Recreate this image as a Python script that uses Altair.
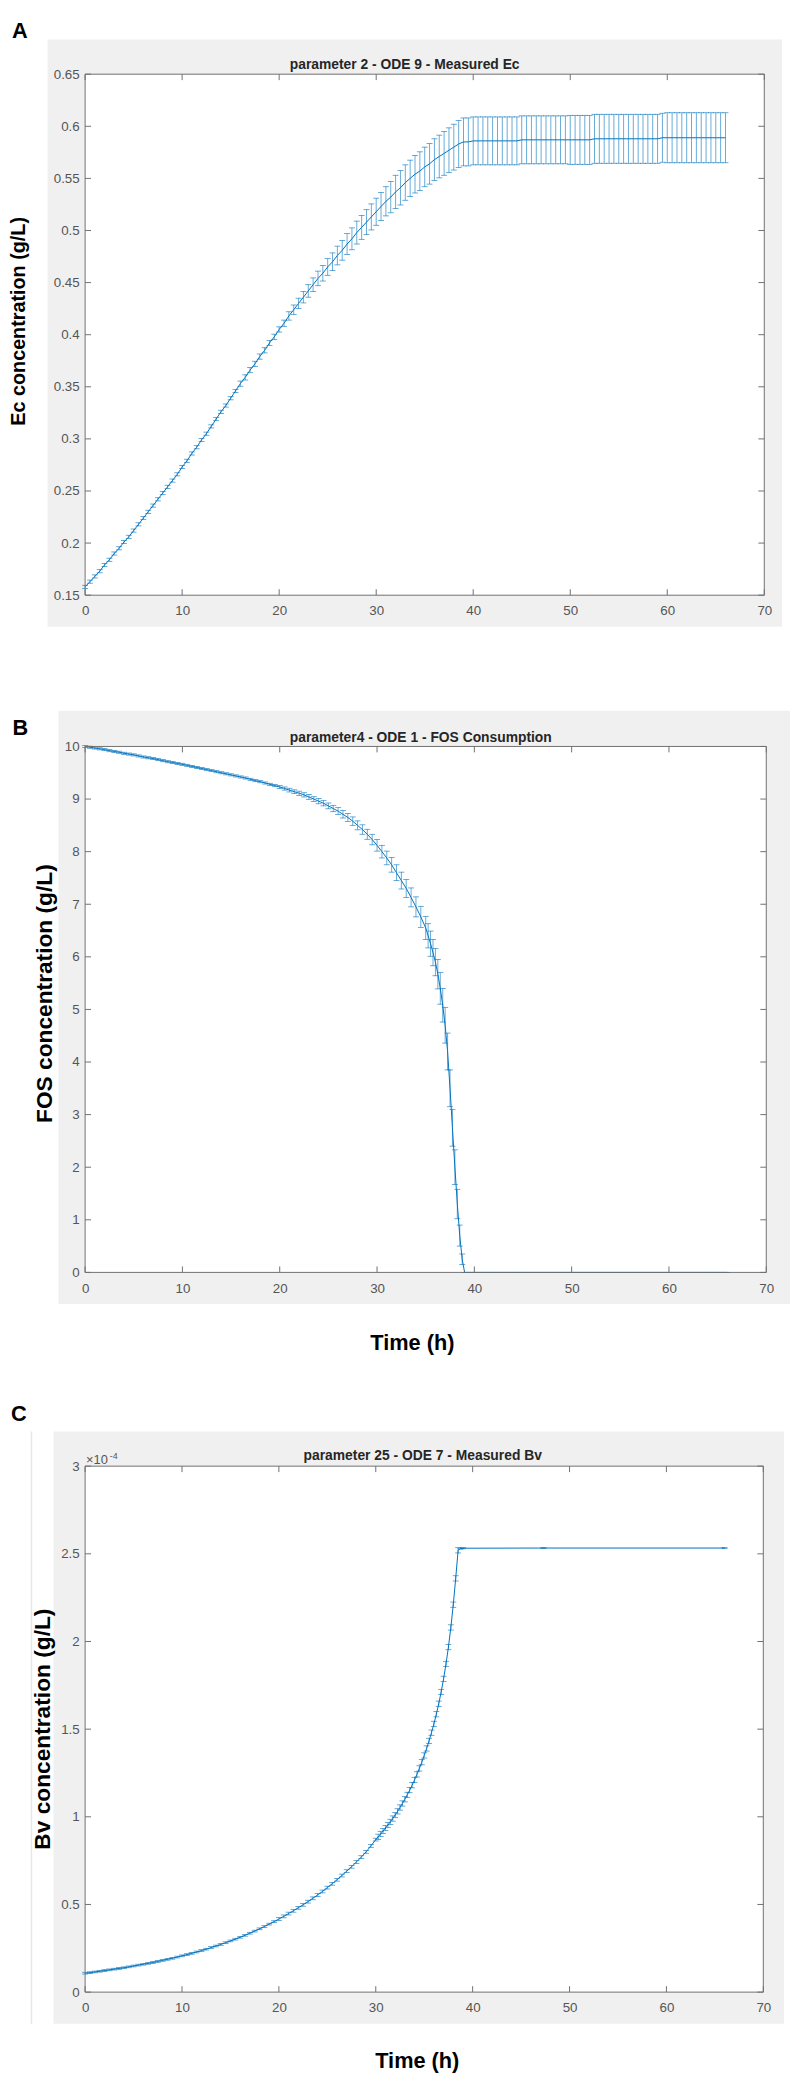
import altair as alt
import pandas as pd

# ----------------------------------------------------------------- data
X_TICKS = [0, 10, 20, 30, 40, 50, 60, 70]
A_YTICKS = [0.15, 0.2, 0.25, 0.3, 0.35, 0.4, 0.45, 0.5, 0.55, 0.6, 0.65]
B_YTICKS = [0, 1, 2, 3, 4, 5, 6, 7, 8, 9, 10]
C_YTICKS = [0, 0.5, 1, 1.5, 2, 2.5, 3]

# Panel A : Ec (g/L), mean and half-width of the error bar
A_TIME = [0, 0.5, 1, 1.5, 2, 2.5, 3, 3.5, 4, 4.5,
          5, 5.5, 6, 6.5, 7, 7.5, 8, 8.5, 9, 9.5,
          10, 10.5, 11, 11.5, 12, 12.5, 13, 13.5, 14, 14.5,
          15, 15.5, 16, 16.5, 17, 17.5, 18, 18.5, 19, 19.5,
          20, 20.5, 21, 21.5, 22, 22.5, 23, 23.5, 24, 24.5,
          25, 25.5, 26, 26.5, 27, 27.5, 28, 28.5, 29, 29.5,
          30, 30.5, 31, 31.5, 32, 32.5, 33, 33.5, 34, 34.5,
          35, 35.5, 36, 36.5, 37, 37.5, 38, 38.5, 39, 39.5,
          40, 40.5, 41, 41.5, 42, 42.5, 43, 43.5, 44, 44.5,
          45, 45.5, 46, 46.5, 47, 47.5, 48, 48.5, 49, 49.5,
          50, 50.5, 51, 51.5, 52, 52.5, 53, 53.5, 54, 54.5,
          55, 55.5, 56, 56.5, 57, 57.5, 58, 58.5, 59, 59.5,
          60, 60.5, 61, 61.5, 62, 62.5, 63, 63.5, 64, 64.5,
          65, 65.5, 66]
A_MEAN = [0.158, 0.163, 0.168, 0.173, 0.179, 0.184, 0.190, 0.195, 0.201, 0.206,
          0.212, 0.218, 0.224, 0.230, 0.236, 0.242, 0.248, 0.254, 0.260, 0.266,
          0.273, 0.279, 0.286, 0.292, 0.299, 0.305, 0.312, 0.319, 0.326, 0.332,
          0.339, 0.346, 0.353, 0.359, 0.366, 0.372, 0.379, 0.385, 0.392, 0.398,
          0.405, 0.411, 0.418, 0.424, 0.430, 0.436, 0.442, 0.448, 0.454, 0.459,
          0.465, 0.470, 0.476, 0.481, 0.487, 0.492, 0.498, 0.503, 0.508, 0.513,
          0.518, 0.523, 0.528, 0.532, 0.537, 0.541, 0.546, 0.550, 0.554, 0.557,
          0.561, 0.564, 0.568, 0.571, 0.574, 0.577, 0.580, 0.583, 0.585, 0.585,
          0.586, 0.586, 0.586, 0.586, 0.586, 0.586, 0.586, 0.586, 0.586, 0.586,
          0.587, 0.587, 0.587, 0.587, 0.587, 0.587, 0.587, 0.587, 0.587, 0.587,
          0.587, 0.587, 0.587, 0.587, 0.587, 0.588, 0.588, 0.588, 0.588, 0.588,
          0.588, 0.588, 0.588, 0.588, 0.588, 0.588, 0.588, 0.588, 0.588, 0.589,
          0.589, 0.589, 0.589, 0.589, 0.589, 0.589, 0.589, 0.589, 0.589, 0.589,
          0.589, 0.589, 0.589]
A_ERR = [0.0015, 0.0015, 0.0015, 0.0015, 0.0015, 0.0015, 0.0015, 0.0015, 0.0015, 0.0015,
         0.0015, 0.0015, 0.0015, 0.0015, 0.0015, 0.0015, 0.0015, 0.0015, 0.0015, 0.0015,
         0.0015, 0.0015, 0.0015, 0.0015, 0.0015, 0.0015, 0.0015, 0.0015, 0.0015, 0.0015,
         0.0015, 0.0015, 0.0025, 0.0025, 0.0025, 0.0025, 0.0025, 0.0025, 0.0025, 0.0025,
         0.0025, 0.0030, 0.0040, 0.0045, 0.0050, 0.0055, 0.0060, 0.0065, 0.0070, 0.0075,
         0.0080, 0.0085, 0.0090, 0.0095, 0.0100, 0.0105, 0.0110, 0.0115, 0.0120, 0.0125,
         0.0130, 0.0135, 0.0140, 0.0150, 0.0160, 0.0165, 0.0170, 0.0175, 0.0180, 0.0185,
         0.0190, 0.0195, 0.0200, 0.0205, 0.0210, 0.0215, 0.0220, 0.0225, 0.0230, 0.0230,
         0.0230, 0.0230, 0.0230, 0.0230, 0.0230, 0.0230, 0.0230, 0.0230, 0.0230, 0.0230,
         0.0230, 0.0230, 0.0230, 0.0230, 0.0230, 0.0230, 0.0230, 0.0230, 0.0230, 0.0230,
         0.0235, 0.0235, 0.0235, 0.0235, 0.0235, 0.0235, 0.0235, 0.0235, 0.0235, 0.0235,
         0.0235, 0.0235, 0.0235, 0.0235, 0.0235, 0.0235, 0.0235, 0.0235, 0.0235, 0.0235,
         0.0240, 0.0240, 0.0240, 0.0240, 0.0240, 0.0240, 0.0240, 0.0240, 0.0240, 0.0240,
         0.0240, 0.0240, 0.0240]

# Panel B : FOS (g/L)
B_TIME = [0, 0.5, 1, 1.5, 2, 2.5, 3, 3.5, 4, 4.5,
          5, 5.5, 6, 6.5, 7, 7.5, 8, 8.5, 9, 9.5,
          10, 10.5, 11, 11.5, 12, 12.5, 13, 13.5, 14, 14.5,
          15, 15.5, 16, 16.5, 17, 17.5, 18, 18.5, 19, 19.5,
          20, 20.5, 21, 21.5, 22, 22.5, 23, 23.5, 24, 24.5,
          25, 25.5, 26, 26.5, 27, 27.5, 28, 28.5, 29, 29.5,
          30, 30.5, 31, 31.5, 32, 32.5, 33, 33.5, 34, 34.5,
          35,
          35.25, 35.5, 35.75, 36, 36.25, 36.5, 36.75, 37, 37.25, 37.5,
          37.75, 38, 38.25, 38.5, 38.75, 39, 39.25, 39.5,
          40, 41, 42, 43, 44, 45, 46, 47, 48, 49, 50, 51, 52, 53,
          54, 55, 56, 57, 58, 59, 60, 61, 62, 63, 64, 65, 66]
B_MEAN = [10.00, 9.985, 9.97, 9.955, 9.94, 9.92, 9.905, 9.89, 9.87, 9.855,
          9.84, 9.82, 9.80, 9.785, 9.77, 9.75, 9.73, 9.71, 9.695, 9.675,
          9.66, 9.64, 9.62, 9.60, 9.58, 9.56, 9.54, 9.52, 9.50, 9.48,
          9.46, 9.44, 9.42, 9.40, 9.375, 9.35, 9.33, 9.305, 9.28, 9.255,
          9.23, 9.20, 9.17, 9.14, 9.11, 9.08, 9.04, 9.00, 8.96, 8.92,
          8.87, 8.82, 8.77, 8.71, 8.65, 8.58, 8.50, 8.42, 8.33, 8.23,
          8.12, 8.00, 7.88, 7.75, 7.60, 7.45, 7.30, 7.13, 6.95, 6.76,
          6.55,
          6.40, 6.25, 6.08, 5.90, 5.67, 5.40, 5.08, 4.70, 4.20, 3.50,
          2.75, 2.00, 1.30, 0.70, 0.25, 0.0, 0.0, 0.0,
          0, 0, 0, 0, 0, 0, 0, 0, 0, 0, 0, 0, 0, 0,
          0, 0, 0, 0, 0, 0, 0, 0, 0, 0, 0, 0, 0]
B_ERR = [0.02, 0.02, 0.02, 0.02, 0.02, 0.02, 0.02, 0.02, 0.02, 0.02,
         0.02, 0.02, 0.02, 0.02, 0.02, 0.02, 0.02, 0.02, 0.02, 0.02,
         0.02, 0.02, 0.02, 0.02, 0.02, 0.02, 0.02, 0.02, 0.02, 0.02,
         0.02, 0.02, 0.02, 0.02, 0.02, 0.02, 0.02, 0.02, 0.02, 0.02,
         0.03, 0.03, 0.035, 0.035, 0.04, 0.04, 0.045, 0.045, 0.05, 0.05,
         0.055, 0.06, 0.065, 0.07, 0.075, 0.08, 0.085, 0.09, 0.095, 0.10,
         0.11, 0.12, 0.13, 0.14, 0.15, 0.16, 0.17, 0.18, 0.19, 0.20,
         0.22,
         0.23, 0.24, 0.25, 0.26, 0.28, 0.30, 0.32, 0.34, 0.35, 0.35,
         0.35, 0.33, 0.28, 0.20, 0.10, 0.0, 0.0, 0.0,
         0, 0, 0, 0, 0, 0, 0, 0, 0, 0, 0, 0, 0, 0,
         0, 0, 0, 0, 0, 0, 0, 0, 0, 0, 0, 0, 0]

# Panel C : Bv (x 1e-4 g/L)
C_TIME = [0, 0.5, 1, 1.5, 2, 2.5, 3, 3.5, 4, 4.5,
          5, 5.5, 6, 6.5, 7, 7.5, 8, 8.5, 9, 9.5,
          10, 10.5, 11, 11.5, 12, 12.5, 13, 13.5, 14, 14.5,
          15, 15.5, 16, 16.5, 17, 17.5, 18, 18.5, 19, 19.5,
          20, 20.5, 21, 21.5, 22, 22.5, 23, 23.5, 24, 24.5,
          25, 25.5, 26, 26.5, 27, 27.5, 28, 28.5, 29, 29.5,
          30,
          30.25, 30.5, 30.75, 31, 31.25, 31.5, 31.75, 32, 32.25, 32.5,
          32.75, 33, 33.25, 33.5, 33.75, 34, 34.25, 34.5, 34.75, 35,
          35.25, 35.5, 35.75, 36, 36.25, 36.5, 36.75, 37, 37.25, 37.5,
          37.75, 38, 38.25, 38.5,
          38.75, 39, 47.3, 66]
C_MEAN = [0.108, 0.111, 0.115, 0.119, 0.123, 0.127, 0.131, 0.135, 0.139, 0.144,
          0.149, 0.154, 0.159, 0.164, 0.169, 0.175, 0.181, 0.187, 0.193, 0.200,
          0.207, 0.214, 0.221, 0.229, 0.237, 0.245, 0.254, 0.263, 0.272, 0.282,
          0.292, 0.302, 0.313, 0.324, 0.336, 0.348, 0.361, 0.374, 0.388, 0.402,
          0.417, 0.432, 0.448, 0.464, 0.481, 0.498, 0.516, 0.535, 0.554, 0.574,
          0.596, 0.618, 0.641, 0.665, 0.690, 0.715, 0.742, 0.770, 0.800, 0.834,
          0.870,
          0.886, 0.902, 0.919, 0.936, 0.953, 0.971, 0.990, 1.010, 1.031, 1.053,
          1.076, 1.100, 1.125, 1.152, 1.180, 1.210, 1.242, 1.276, 1.312, 1.350,
          1.390, 1.433, 1.480, 1.530, 1.585, 1.645, 1.712, 1.787, 1.872, 1.968,
          2.080, 2.210, 2.360, 2.520,
          2.530, 2.532, 2.533, 2.533]
C_ERR = [0.005, 0.005, 0.005, 0.005, 0.005, 0.005, 0.005, 0.005, 0.005, 0.005,
         0.005, 0.005, 0.005, 0.005, 0.005, 0.005, 0.005, 0.005, 0.005, 0.005,
         0.005, 0.005, 0.005, 0.005, 0.005, 0.005, 0.005, 0.005, 0.005, 0.005,
         0.005, 0.005, 0.005, 0.005, 0.005, 0.005, 0.005, 0.005, 0.005, 0.005,
         0.008, 0.008, 0.008, 0.008, 0.008, 0.008, 0.008, 0.008, 0.008, 0.008,
         0.008, 0.008, 0.008, 0.008, 0.008, 0.008, 0.008, 0.008, 0.008, 0.008,
         0.008,
         0.015, 0.015, 0.015, 0.015, 0.015, 0.015, 0.015, 0.015, 0.015, 0.015,
         0.015, 0.015, 0.015, 0.015, 0.015, 0.015, 0.015, 0.015, 0.015, 0.015,
         0.015, 0.015, 0.015, 0.015, 0.015, 0.015, 0.015, 0.015, 0.015, 0.015,
         0.015, 0.015, 0.015, 0.015,
         0.003, 0.003, 0.003, 0.003]

# ----------------------------------------------------------------- style
FONT = "Liberation Sans"
BLUE = "#0072BD"
FIG_BG = "#f0f0f0"
AX = "#707070"
LAB = "#555555"


def single():
    return alt.Chart(pd.DataFrame({"k": [0]}))


def rect(x0, x1, y0, y1, **kw):
    return single().mark_rect(**kw).encode(
        x=alt.value(x0), x2=alt.value(x1), y=alt.value(y0), y2=alt.value(y1))


def label(s, x, y, **kw):
    return single().mark_text(text=s, **kw).encode(x=alt.value(x), y=alt.value(y))


def panel(time, mean, err, ydom, yticks, yfmt, w, h, cfg):
    df = pd.DataFrame({"t": time, "m": mean, "e": err})
    df["lo"] = df["m"] - df["e"]
    df["hi"] = df["m"] + df["e"]

    xs = alt.Scale(domain=[0, 70], nice=False, zero=False)
    ys = alt.Scale(domain=ydom, nice=False, zero=False)
    common = dict(ticks=False, domain=False, grid=False, title=None,
                  labelFont=FONT, labelFontSize=13.5, labelColor=LAB,
                  labelOverlap=False, labelBound=False, labelFlush=False, zindex=1)
    xax = alt.Axis(values=X_TICKS, labelPadding=9, **common)
    yax = alt.Axis(values=yticks, format=yfmt, labelPadding=6, **common)

    def X(f):
        return alt.X(f, type="quantitative", scale=xs, axis=xax)

    def Y(f):
        return alt.Y(f, type="quantitative", scale=ys, axis=yax)

    base = alt.Chart(df)
    bars = base.mark_rule(color=BLUE, strokeWidth=0.8, opacity=0.75).encode(
        x=X("t"), y=Y("lo"), y2=alt.Y2("hi"))
    cap_lo = base.mark_tick(orient="horizontal", size=6, thickness=0.8,
                            color=BLUE, opacity=0.75).encode(x=X("t"), y=Y("lo"))
    cap_hi = base.mark_tick(orient="horizontal", size=6, thickness=0.8,
                            color=BLUE, opacity=0.75).encode(x=X("t"), y=Y("hi"))
    line = base.mark_line(color=BLUE, strokeWidth=1).encode(x=X("t"), y=Y("m"))

    xt = alt.Chart(pd.DataFrame({"v": X_TICKS}))
    yt = alt.Chart(pd.DataFrame({"v": yticks}))
    tk = dict(color=AX, strokeWidth=1)
    ticks = [
        xt.mark_rule(**tk).encode(x=X("v"), y=alt.value(h), y2=alt.value(h - 6)),
        xt.mark_rule(**tk).encode(x=X("v"), y=alt.value(0), y2=alt.value(6)),
        yt.mark_rule(**tk).encode(y=Y("v"), x=alt.value(0), x2=alt.value(6)),
        yt.mark_rule(**tk).encode(y=Y("v"), x=alt.value(w - 6), x2=alt.value(w)),
    ]
    box = rect(0, w, 0, h, fillOpacity=0, stroke=AX, strokeWidth=1)

    layers = [
        rect(*cfg["band"], color="white"),
        rect(*cfg["gray"], color=FIG_BG),
        rect(0, w, 0, h, color="white"),
    ]
    layers += cfg.get("extra_back", [])
    layers += [bars, cap_lo, cap_hi, line, box] + ticks
    layers += [
        label(cfg["letter"][0], cfg["letter"][1], cfg["letter"][2], font=FONT,
              fontSize=22, fontWeight="bold", align="center", baseline="alphabetic",
              color="black"),
        label(cfg["title"][0], cfg["title"][1], cfg["title"][2], font=FONT,
              fontSize=14, fontWeight="bold", align="left", baseline="alphabetic",
              color="#262626"),
        label(cfg["ytitle"][0], cfg["ytitle"][1], cfg["ytitle"][2], font=FONT,
              fontSize=cfg["ytitle"][3], fontWeight="bold", angle=270,
              align="center", baseline="middle", color="black"),
    ]
    layers += cfg.get("extra_front", [])
    return alt.layer(*layers).properties(width=w, height=h)


pA = panel(A_TIME, A_MEAN, A_ERR, [0.15, 0.65], A_YTICKS, "~g", 687, 527, {
    "band": (-78, 711, -52, 600),
    "gray": (-38, 705, -35, 559),
    "letter": ("A", -66, -37),
    "title": ("parameter 2 - ODE 9 - Measured Ec", 207, -5),
    "ytitle": ("Ec concentration (g/L)", -67, 250, 20),
})

pB = panel(B_TIME, B_MEAN, B_ERR, [0, 10], B_YTICKS, "d", 689, 532, {
    "band": (-76, 713, -80, 640),
    "gray": (-27, 713, -36, 564),
    "letter": ("B", -65.5, -12),
    "title": ("parameter4 - ODE 1 - FOS Consumption", 207, -5),
    "ytitle": ("FOS concentration (g/L)", -40, 250, 23),
    "extra_front": [
        label("Time (h)", 331, 603, font=FONT, fontSize=22, fontWeight="bold",
              align="center", baseline="middle", color="black"),
    ],
})

pC = panel(C_TIME, C_MEAN, C_ERR, [0, 3], C_YTICKS, "~g", 686, 532, {
    "band": (-78, 711, -88, 614),
    "gray": (-32, 707, -35, 564),
    "letter": ("C", -67, -46),
    "title": ("parameter 25 - ODE 7 - Measured Bv", 221, -6),
    "ytitle": ("Bv concentration (g/L)", -43, 266, 23),
    "extra_back": [rect(-55, -53.5, -35, 564, color="#e6e6e6")],
    "extra_front": [
        label("×10", 1, -2, font=FONT, fontSize=13, align="left",
              baseline="alphabetic", color=LAB),
        label("-4", 25, -7, font=FONT, fontSize=9, align="left",
              baseline="alphabetic", color=LAB),
        label("Time (h)", 336, 602, font=FONT, fontSize=22, fontWeight="bold",
              align="center", baseline="middle", color="black"),
    ],
})

chart = alt.vconcat(pA, pB, pC, spacing=0).properties(
    padding=0, background="white"
).configure_view(stroke=None)

chart.save("out.html", embed_options={"renderer": "svg", "actions": False})
